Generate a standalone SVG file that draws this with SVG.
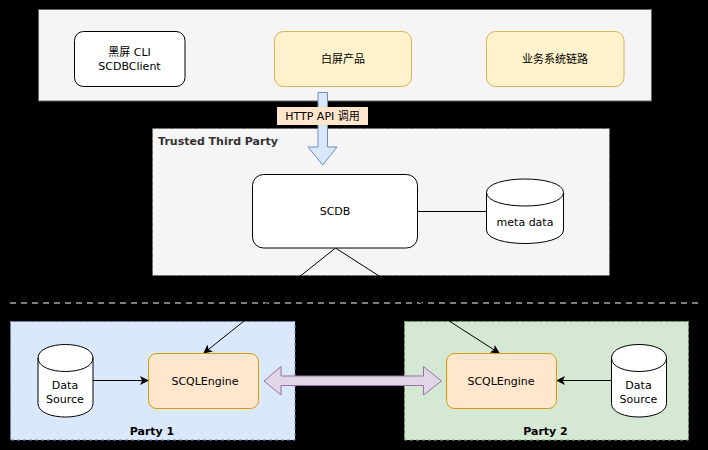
<svg xmlns="http://www.w3.org/2000/svg" width="708" height="450" viewBox="0 0 708 450">
<style>
text{font-family:"DejaVu Sans","Noto Sans CJK SC",sans-serif;font-size:11px;fill:#000;text-anchor:middle}
.b{font-weight:bold}
.grp{fill:#f5f5f5;stroke:#666}
.dash{stroke-dasharray:3 3}
.white{fill:#fff;stroke:#000}
.yellow{fill:#fff2cc;stroke:#d6b656}
.orange{fill:#ffe6cc;stroke:#d79b00}
.cyl{fill:#fff;stroke:#000}
.conn{fill:none;stroke:#000;stroke-width:1}
</style>
<defs>
<marker id="arr" markerWidth="9" markerHeight="9" refX="8" refY="4.500" orient="auto" markerUnits="userSpaceOnUse"><path d="M0 0L9 4.500L0 9L2.200 4.500Z" fill="#000"/></marker>
</defs>
<rect width="708" height="450" fill="#000"/>
<g id="top-group">
<rect class="grp" x="38.500" y="9.500" width="613" height="91.500"/>
</g>
<g id="ttp-group">
<rect class="grp dash" x="152.500" y="128.500" width="457" height="147"/>
<text class="b" x="218" y="145" style="fill:#333">Trusted Third Party</text>
</g>
<g id="party1">
<rect x="10.500" y="321.500" width="284.500" height="118.500" fill="#dae8fc" stroke="#6c8ebf" class="dash"/>
<text class="b" x="152" y="435">Party 1</text>
</g>
<g id="party2">
<rect x="404.500" y="321.500" width="284" height="118.500" fill="#d5e8d4" stroke="#82b366" class="dash"/>
<text class="b" x="545.500" y="435">Party 2</text>
</g>
<g id="connectors">
<path class="conn" d="M417 211.500H486.500"/>
<path d="M10 303H698" fill="none" stroke="#a6a6a6" stroke-width="1.300" stroke-dasharray="6 5"/>
<path class="conn" d="M335.500 248L204 353" marker-end="url(#arr)"/>
<path class="conn" d="M335.500 248L499 353" marker-end="url(#arr)"/>
<path class="conn" d="M93 380.500H148" marker-end="url(#arr)"/>
<path class="conn" d="M611 380.500H557" marker-end="url(#arr)"/>
<path d="M264 381L281 366.500V376H423.500V366.500L441.500 381L423.500 395V385.500H281V395Z" fill="#e1d5e7" stroke="#9673a6"/>
<path d="M318 92.500H327.500V147H337L322.700 165L308 147H318Z" fill="#dae8fc" stroke="#6c8ebf"/>
<rect x="277" y="107" width="91" height="18" fill="#ffe6cc"/>
<text x="322.500" y="119.500">HTTP API 调用</text>
</g>
<g id="cli">
<rect class="white" x="74.500" y="31.500" width="110.500" height="55" rx="9"/>
<text x="129.500" y="56">黑屏 CLI</text>
<text x="129.500" y="69.500">SCDBClient</text>
</g>
<g id="white-screen">
<rect class="yellow" x="274.500" y="31.500" width="137" height="55" rx="9"/>
<text x="343" y="62.500">白屏产品</text>
</g>
<g id="business">
<rect class="yellow" x="486.500" y="31.500" width="137.500" height="55" rx="9"/>
<text x="555" y="62.500">业务系统链路</text>
</g>
<g id="scdb">
<rect class="white" x="252.500" y="174.500" width="165" height="73.500" rx="11"/>
<text x="335" y="214.500">SCDB</text>
</g>
<g id="metadata">
<path class="cyl" d="M486.500 192.500C486.500 174.500 563.500 174.500 563.500 192.500V230C563.500 248 486.500 248 486.500 230Z"/>
<path class="conn" d="M486.500 192.500C486.500 210.500 563.500 210.500 563.500 192.500"/>
<text x="525" y="226">meta data</text>
</g>
<g id="engine1">
<rect class="orange" x="148.500" y="353.500" width="110" height="55" rx="8"/>
<text x="205" y="384.500">SCQLEngine</text>
</g>
<g id="engine2">
<rect class="orange" x="446.500" y="353.500" width="110" height="55" rx="8"/>
<text x="501" y="384.500">SCQLEngine</text>
</g>
<g id="source1">
<path class="cyl" d="M38 358C38 340 93 340 93 358V403.500C93 421.500 38 421.500 38 403.500Z"/>
<path class="conn" d="M38 358C38 376 93 376 93 358"/>
<text x="65" y="389">Data</text>
<text x="65" y="403">Source</text>
</g>
<g id="source2">
<path class="cyl" d="M611.500 358C611.500 340 666.500 340 666.500 358V403.500C666.500 421.500 611.500 421.500 611.500 403.500Z"/>
<path class="conn" d="M611.500 358C611.500 376 666.500 376 666.500 358"/>
<text x="638.500" y="389">Data</text>
<text x="638.500" y="403">Source</text>
</g>
</svg>
